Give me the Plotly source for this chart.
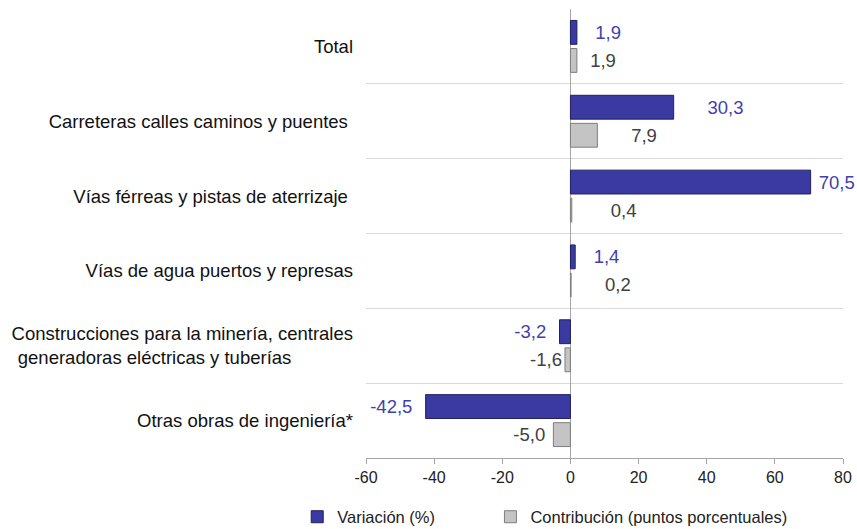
import plotly.graph_objects as go

categories = [
    "Total",
    "Carreteras calles caminos y puentes\u00a0",
    "Vías férreas y pistas de aterrizaje\u00a0",
    "Vías de agua puertos y represas",
    "Construcciones para la minería, centrales<br>generadoras eléctricas y tuberías" + "\u00a0" * 12,
    "Otras obras de ingeniería*",
]
variacion = [1.9, 30.3, 70.5, 1.4, -3.2, -42.5]
contribucion = [1.9, 7.9, 0.4, 0.2, -1.6, -5.0]
x_ticks = [-60, -40, -20, 0, 20, 40, 60, 80]

# label offsets (number of non-breaking spaces between bar end and label)
pad_variacion = [3, 6, 1, 3, 2, 2]
pad_contribucion = [2, 6, 7, 6, 0, 1]


def fmt(vals, pads):
    out = []
    for v, p in zip(vals, pads):
        s = f"{v:.1f}".replace(".", ",")
        out.append("\u00a0" * p + s if v >= 0 else s + "\u00a0" * p)
    return out


font_family = "Arial, Liberation Sans, sans-serif"

fig = go.Figure()
fig.add_trace(go.Bar(
    y=categories, x=variacion, orientation="h",
    name="Variación (%)" + "\u00a0" * 11,
    marker=dict(color="#3A3AA2", line=dict(color="#20205F", width=1)),
    text=fmt(variacion, pad_variacion), textposition="outside", cliponaxis=False,
    constraintext="none",
    textfont=dict(color="#3F3FB0", size=18.5, family=font_family),
))
fig.add_trace(go.Bar(
    y=categories, x=contribucion, orientation="h",
    name="Contribución (puntos porcentuales)",
    marker=dict(color="#C4C4C4", line=dict(color="#7E7E7E", width=1)),
    text=fmt(contribucion, pad_contribucion), textposition="outside", cliponaxis=False,
    constraintext="none",
    textfont=dict(color="#404040", size=18.5, family=font_family),
))

fig.update_layout(
    width=857, height=529,
    margin=dict(l=366, r=14, t=9, b=71, autoexpand=False),
    barmode="group", bargap=0.25, bargroupgap=0.15,
    plot_bgcolor="white", paper_bgcolor="white",
    font=dict(family=font_family, color="#222222", size=16),
    showlegend=True,
    legend=dict(orientation="h", x=-0.1442, xanchor="left", y=-0.1314,
                yanchor="middle", font=dict(size=16.5, color="#222222"),
                traceorder="normal"),
    xaxis=dict(range=[-60, 80], tickvals=x_ticks, ticktext=[str(t) for t in x_ticks],
               showgrid=False, zeroline=True, zerolinecolor="#A6A6A6", zerolinewidth=1,
               showline=True, linecolor="#A6A6A6", linewidth=1,
               ticks="outside", ticklen=5, tickcolor="#A6A6A6",
               tickfont=dict(size=16, color="#222222")),
    yaxis=dict(type="category", categoryorder="array", categoryarray=categories,
               autorange="reversed", tickson="boundaries", showgrid=True,
               gridcolor="#D9D9D9", gridwidth=1, ticks="", showline=False,
               zeroline=False, ticklabelstandoff=12,
               tickfont=dict(size=18.5, color="#111111")),
)

fig.write_html(
    "out.html",
    config={"displayModeBar": False},
    post_script="document.body.style.margin='0';document.body.style.overflow='hidden';",
)
